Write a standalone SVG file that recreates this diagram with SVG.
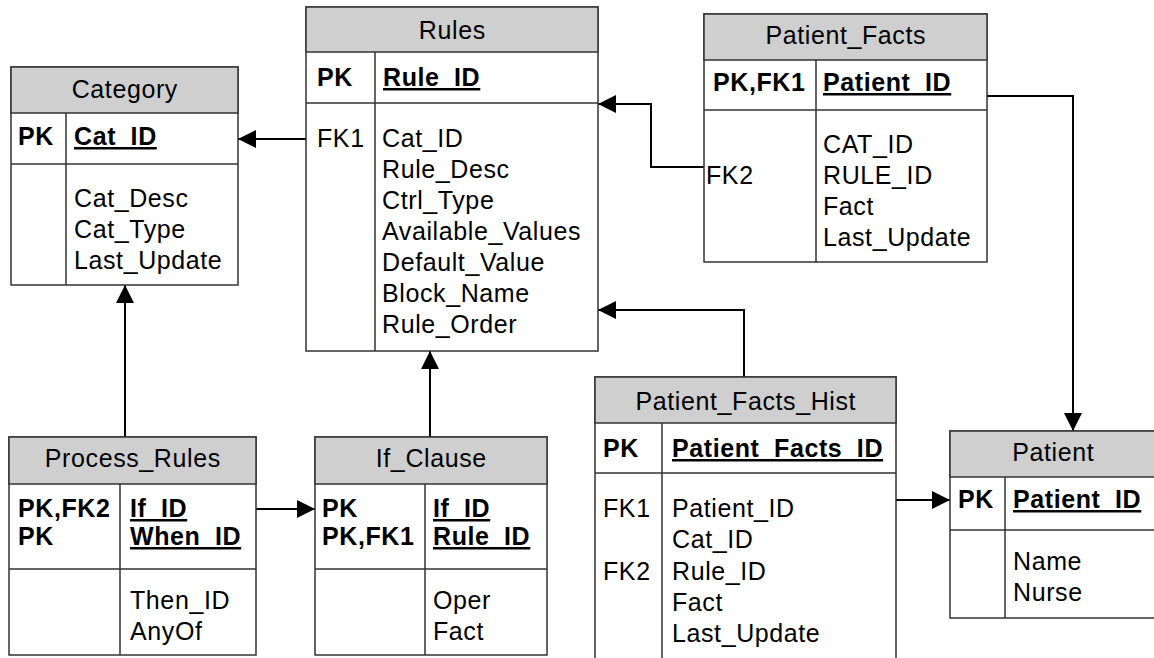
<svg xmlns="http://www.w3.org/2000/svg" width="1154" height="658" viewBox="0 0 1154 658">
<style>
  .box { fill: #ffffff; stroke: #333333; stroke-width: 1.5; }
  .hdr { fill: #cfcfcf; stroke: #333333; stroke-width: 1.5; }
  .ln { stroke: #333333; stroke-width: 1.5; fill: none; }
  text { font-family: "Liberation Sans", Arial, sans-serif; font-size: 25px; letter-spacing: 0.6px; fill: #000000; }
  .t { text-anchor: middle; }
  .b { font-weight: bold; }
  .u { font-weight: bold; text-decoration: underline; }
  .conn { stroke: #000000; stroke-width: 2; fill: none; marker-end: url(#arr); }
</style>
<defs>
  <marker id="arr" markerUnits="userSpaceOnUse" markerWidth="18" markerHeight="18" refX="18" refY="9" orient="auto">
    <path d="M0,0 L18,9 L0,18 Z" fill="#000000"/>
  </marker>
</defs>
<rect width="1154" height="658" fill="#ffffff"/>

<g id="connectors">
  <path class="conn" d="M306,139 H238"/>
  <path class="conn" d="M704,167 H651 V104 H598"/>
  <path class="conn" d="M744,377 V310 H598"/>
  <path class="conn" d="M987,96 H1073 V431"/>
  <path class="conn" d="M896,500 H950"/>
  <path class="conn" d="M125,437 V285"/>
  <path class="conn" d="M430,437 V351"/>
  <path class="conn" d="M256,509 H315"/>
</g>

<g id="Category">
  <rect class="box" x="11" y="67" width="227" height="218"/>
  <rect class="hdr" x="11" y="67" width="227" height="46"/>
  <line class="ln" x1="11" y1="164" x2="238" y2="164"/>
  <line class="ln" x1="66" y1="113" x2="66" y2="285"/>
  <text class="t" x="124.8" y="98">Category</text>
  <text class="b" x="18" y="145">PK</text>
  <text class="u" x="74" y="145">Cat_ID</text>
  <text x="74" y="207">Cat_Desc</text>
  <text x="74" y="238">Cat_Type</text>
  <text x="74" y="269">Last_Update</text>
</g>

<g id="Rules">
  <rect class="box" x="306" y="7" width="292" height="344"/>
  <rect class="hdr" x="306" y="7" width="292" height="45"/>
  <line class="ln" x1="306" y1="103" x2="598" y2="103"/>
  <line class="ln" x1="375" y1="52" x2="375" y2="351"/>
  <text class="t" x="452.3" y="39">Rules</text>
  <text class="b" x="317" y="86">PK</text>
  <text class="u" x="383" y="86">Rule_ID</text>
  <text x="317" y="147">FK1</text>
  <text x="382" y="147">Cat_ID</text>
  <text x="382" y="178">Rule_Desc</text>
  <text x="382" y="209">Ctrl_Type</text>
  <text x="382" y="240">Available_Values</text>
  <text x="382" y="271">Default_Value</text>
  <text x="382" y="302">Block_Name</text>
  <text x="382" y="333">Rule_Order</text>
</g>

<g id="Patient_Facts">
  <rect class="box" x="704" y="14" width="283" height="248"/>
  <rect class="hdr" x="704" y="14" width="283" height="46"/>
  <line class="ln" x1="704" y1="110" x2="987" y2="110"/>
  <line class="ln" x1="816" y1="60" x2="816" y2="262"/>
  <text class="t" x="845.8" y="44">Patient_Facts</text>
  <text class="b" x="713" y="91">PK,FK1</text>
  <text class="u" x="823" y="91">Patient_ID</text>
  <text x="706" y="184">FK2</text>
  <text x="823" y="153">CAT_ID</text>
  <text x="823" y="184">RULE_ID</text>
  <text x="823" y="215">Fact</text>
  <text x="823" y="246">Last_Update</text>
</g>

<g id="Process_Rules">
  <rect class="box" x="9" y="437" width="247" height="218"/>
  <rect class="hdr" x="9" y="437" width="247" height="47"/>
  <line class="ln" x1="9" y1="569" x2="256" y2="569"/>
  <line class="ln" x1="120" y1="484" x2="120" y2="655"/>
  <text class="t" x="132.8" y="467">Process_Rules</text>
  <text class="b" x="18" y="517">PK,FK2</text>
  <text class="b" x="18" y="545">PK</text>
  <text class="u" x="130" y="517">If_ID</text>
  <text class="u" x="130" y="545">When_ID</text>
  <text x="130" y="609">Then_ID</text>
  <text x="130" y="640">AnyOf</text>
</g>

<g id="If_Clause">
  <rect class="box" x="315" y="437" width="232" height="218"/>
  <rect class="hdr" x="315" y="437" width="232" height="47"/>
  <line class="ln" x1="315" y1="569" x2="547" y2="569"/>
  <line class="ln" x1="425" y1="484" x2="425" y2="655"/>
  <text class="t" x="431.3" y="467">If_Clause</text>
  <text class="b" x="322" y="517">PK</text>
  <text class="b" x="322" y="545">PK,FK1</text>
  <text class="u" x="433" y="517">If_ID</text>
  <text class="u" x="433" y="545">Rule_ID</text>
  <text x="433" y="609">Oper</text>
  <text x="433" y="640">Fact</text>
</g>

<g id="Patient_Facts_Hist">
  <rect class="box" x="595" y="377" width="301" height="300"/>
  <rect class="hdr" x="595" y="377" width="301" height="46"/>
  <line class="ln" x1="595" y1="473" x2="896" y2="473"/>
  <line class="ln" x1="662" y1="423" x2="662" y2="677"/>
  <text class="t" x="745.8" y="410">Patient_Facts_Hist</text>
  <text class="b" x="603" y="457">PK</text>
  <text class="u" x="672" y="457">Patient_Facts_ID</text>
  <text x="603" y="517">FK1</text>
  <text x="603" y="580">FK2</text>
  <text x="672" y="517">Patient_ID</text>
  <text x="672" y="548">Cat_ID</text>
  <text x="672" y="580">Rule_ID</text>
  <text x="672" y="611">Fact</text>
  <text x="672" y="642">Last_Update</text>
</g>

<g id="Patient">
  <rect class="box" x="950" y="431" width="206" height="187"/>
  <rect class="hdr" x="950" y="431" width="206" height="46"/>
  <line class="ln" x1="950" y1="530" x2="1156" y2="530"/>
  <line class="ln" x1="1005" y1="477" x2="1005" y2="618"/>
  <text class="t" x="1053.3" y="461">Patient</text>
  <text class="b" x="958" y="508">PK</text>
  <text class="u" x="1013" y="508">Patient_ID</text>
  <text x="1013" y="570">Name</text>
  <text x="1013" y="601">Nurse</text>
</g>
</svg>
